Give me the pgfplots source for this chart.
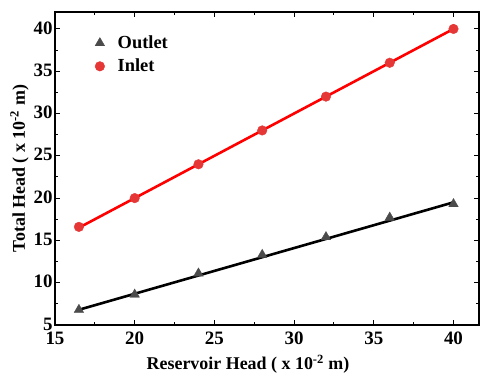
\documentclass[border=0pt]{standalone}
\usepackage{pgfplots}
\pgfplotsset{compat=1.18}
\usepackage{fontspec}
\setmainfont{Liberation Serif}
\usetikzlibrary{calc}
\definecolor{inred}{RGB}{230,55,55}
\definecolor{outgray}{RGB}{75,75,75}
\begin{document}
\begin{tikzpicture}
\begin{axis}[
  scale only axis,
  width=424bp, height=313bp,
  xmin=15, xmax=41.6, ymin=5, ymax=42,
  xtick={15,20,25,30,35,40}, ytick={5,10,15,20,25,30,35,40},
  minor x tick num=1, minor y tick num=1,
  tick align=inside,
  major tick length=5bp, minor tick length=3bp,
  axis line style={line width=1.6bp},
  every tick/.style={line width=1bp, black},
  tick label style={font=\fontsize{19}{19}\selectfont\bfseries},
  /pgf/number format/assume math mode=true,
  xticklabel style={yshift=-3bp},
  yticklabel style={xshift=1bp, yshift=1bp},
  xlabel={Reservoir Head ( x 10\textsuperscript{-2} m)},
  ylabel={Total Head ( x 10\textsuperscript{-2} m)},
  label style={font=\fontsize{18}{19}\selectfont\bfseries},
  xlabel style={yshift=-4bp, xshift=-19bp},
  ylabel style={yshift=-2bp},
  legend style={draw=none, fill=none, at={(0.087,0.937)}, anchor=north west,
    font=\fontsize{18.5}{19}\selectfont\bfseries, row sep=5bp, column sep=11bp},
  legend cell align=left,
]
\addplot[only marks, mark=triangle*, mark size=5.5bp, color=outgray] coordinates {
 (16.5,6.8) (20,8.6) (24,11.1) (28,13.3) (32,15.4) (36,17.7) (40,19.3)};
\addlegendentry{Outlet}
\addplot[only marks, mark=*, mark size=4.8bp, color=inred] coordinates {
 (16.5,16.6) (20,20) (24,24) (28,28) (32,32) (36,36) (40,40)};
\addlegendentry{Inlet}
\addplot[black, line width=2.6bp, forget plot] coordinates {(16.5,6.8) (40,19.5)};
\addplot[red, line width=2.6bp, forget plot] coordinates {(16.5,16.5) (40,40)};
\end{axis}
\pgfresetboundingbox
\path[use as bounding box] ($(current axis.south west)+(-55bp,-51bp)$) rectangle ($(current axis.north east)+(1bp,12bp)$);
\end{tikzpicture}
\end{document}
